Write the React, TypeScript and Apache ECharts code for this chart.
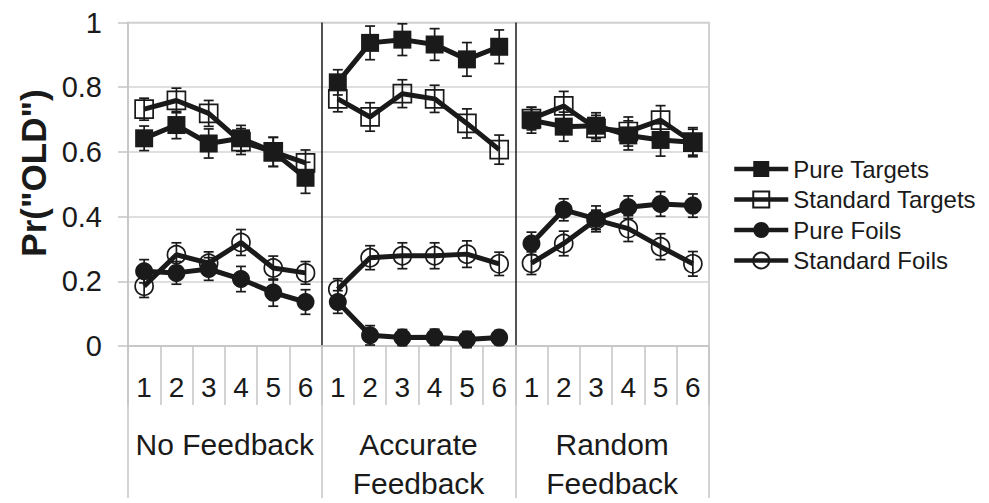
import React, { useEffect, useRef } from "react";
import * as echarts from "echarts";

const blocks = ["1", "2", "3", "4", "5", "6"];
const groups = ["No Feedback", "Accurate\nFeedback", "Random\nFeedback"];
const yTicks = { min: 0, max: 1, interval: 0.2 };

// values per block, three groups of six (No Feedback, Accurate, Random)
const pureTargets = [0.642, 0.683, 0.626, 0.642, 0.6, 0.52, 0.815, 0.937, 0.947, 0.932, 0.886, 0.925, 0.698, 0.678, 0.681, 0.651, 0.637, 0.63];
const standardTargets = [0.732, 0.759, 0.719, 0.632, 0.6, 0.566, 0.764, 0.708, 0.78, 0.764, 0.688, 0.607, 0.703, 0.742, 0.673, 0.663, 0.698, 0.63];
const pureFoils = [0.231, 0.226, 0.238, 0.207, 0.165, 0.136, 0.136, 0.033, 0.026, 0.027, 0.02, 0.026, 0.317, 0.421, 0.393, 0.429, 0.439, 0.434];
const standardFoils = [0.185, 0.282, 0.256, 0.32, 0.241, 0.226, 0.175, 0.273, 0.279, 0.279, 0.284, 0.254, 0.256, 0.317, 0.39, 0.363, 0.307, 0.254];

const pureTargetsErr = [0.038, 0.042, 0.045, 0.04, 0.045, 0.048, 0.039, 0.052, 0.049, 0.049, 0.052, 0.052, 0.04, 0.045, 0.04, 0.045, 0.05, 0.045];
const standardTargetsErr = [0.034, 0.038, 0.04, 0.04, 0.045, 0.04, 0.04, 0.044, 0.043, 0.042, 0.045, 0.045, 0.035, 0.045, 0.04, 0.045, 0.045, 0.04];
const pureFoilsErr = [0.036, 0.035, 0.035, 0.039, 0.042, 0.038, 0.035, 0.03, 0.025, 0.025, 0.025, 0.022, 0.035, 0.034, 0.04, 0.035, 0.038, 0.036];
const standardFoilsErr = [0.035, 0.037, 0.035, 0.04, 0.037, 0.035, 0.033, 0.037, 0.04, 0.04, 0.041, 0.036, 0.035, 0.038, 0.03, 0.04, 0.04, 0.038];

const seriesDefs = [
  { name: "Standard Foils", values: standardFoils, err: standardFoilsErr, symbol: "circle", filled: false },
  { name: "Pure Foils", values: pureFoils, err: pureFoilsErr, symbol: "circle", filled: true },
  { name: "Standard Targets", values: standardTargets, err: standardTargetsErr, symbol: "rect", filled: false },
  { name: "Pure Targets", values: pureTargets, err: pureTargetsErr, symbol: "rect", filled: true },
];

const FONT = "'Liberation Sans', Arial, Helvetica, sans-serif";
const GRAY = "#c4c4c4";
const INK = "#1a1a1a";

export default function App() {
  const ref = useRef<HTMLDivElement>(null);
  useEffect(() => {
    if (!ref.current) return;
    const chart = echarts.init(ref.current, undefined, { renderer: "svg" });
    const categories: string[] = [];
    groups.forEach(() => blocks.forEach((b) => categories.push(b)));

    const series: any[] = [];
    // error bars
    seriesDefs.forEach((d) => {
      const data = d.values.map((v, i) => [i, v - d.err[i], v + d.err[i]]);
      series.push({
        type: "custom",
        xAxisIndex: 0,
        yAxisIndex: 0,
        silent: true,
        z: 1,
        encode: { x: 0, y: [1, 2] },
        data,
        renderItem: (params: any, api: any) => {
          const x = api.value(0);
          const lo = api.coord([x, api.value(1)]);
          const hi = api.coord([x, api.value(2)]);
          const hw = 5;
          const style = { stroke: INK, lineWidth: 1.7 };
          return {
            type: "group",
            children: [
              { type: "line", shape: { x1: lo[0], y1: lo[1], x2: hi[0], y2: hi[1] }, style },
              { type: "line", shape: { x1: lo[0] - hw, y1: lo[1], x2: lo[0] + hw, y2: lo[1] }, style },
              { type: "line", shape: { x1: hi[0] - hw, y1: hi[1], x2: hi[0] + hw, y2: hi[1] }, style },
            ],
          };
        },
      });
    });
    // lines, one segment per group
    seriesDefs.forEach((d, si) => {
      groups.forEach((g, gi) => {
        const data = blocks.map((b, bi) => {
          const idx = gi * blocks.length + bi;
          return [idx, d.values[idx]];
        });
        series.push({
          type: "line",
          name: d.name,
          xAxisIndex: 0,
          yAxisIndex: 0,
          z: 2 + si,
          data,
          symbol: d.symbol,
          symbolSize: 18,
          showSymbol: true,
          lineStyle: { color: INK, width: 5 },
          itemStyle: {
            color: d.filled ? INK : "transparent",
            borderColor: INK,
            borderWidth: d.filled ? 0 : 1.7,
          },
          emphasis: { disabled: true },
        });
      });
    });

    chart.setOption({
      animation: false,
      textStyle: { fontFamily: FONT },
      grid: {
        left: 128,
        right: 280,
        top: 22.5,
        bottom: 152,
        show: true,
        borderColor: GRAY,
        borderWidth: 1.5,
      },
      legend: {
        data: ["Pure Targets", "Standard Targets", "Pure Foils", "Standard Foils"],
        orient: "vertical",
        left: 732,
        top: 157,
        padding: 0,
        itemWidth: 54,
        itemHeight: 20,
        itemGap: 6.5,
        selectedMode: false,
        lineStyle: { width: 4.5, color: INK },
        textStyle: { fontSize: 24, lineHeight: 24, color: INK, fontFamily: FONT },
      },
      xAxis: [
        {
          type: "category",
          data: categories,
          position: "bottom",
          boundaryGap: true,
          axisLine: { show: true, lineStyle: { color: GRAY, width: 1.5 } },
          axisTick: { show: true, interval: 0, length: 59, lineStyle: { color: GRAY, width: 1.5 } },
          axisLabel: { interval: 0, margin: 27, fontSize: 28, color: INK, fontFamily: FONT },
          splitLine: { show: false },
        },
        {
          type: "category",
          data: groups,
          position: "bottom",
          offset: 0,
          boundaryGap: true,
          axisLine: { show: false },
          axisTick: { show: true, interval: 0, length: 152, lineStyle: { color: GRAY, width: 1.5 } },
          axisLabel: { interval: 0, margin: 79, fontSize: 30, lineHeight: 39, color: INK, fontFamily: FONT },
          splitLine: {
            show: true,
            interval: 0,
            showMinLine: false,
            showMaxLine: false,
            lineStyle: { color: INK, width: 1.5 },
          },
        },
      ],
      yAxis: {
        type: "value",
        min: yTicks.min,
        max: yTicks.max,
        interval: yTicks.interval,
        axisLine: { show: true, lineStyle: { color: GRAY, width: 1.5 } },
        axisTick: { show: true, length: 10, lineStyle: { color: GRAY, width: 1.5 } },
        axisLabel: { margin: 26, fontSize: 29, color: INK, fontFamily: FONT },
        splitLine: { show: true, lineStyle: { color: "#d4d4d4", width: 1.5 } },
      },
      graphic: [
        {
          type: "text",
          x: 33,
          y: 173,
          rotation: Math.PI / 2,
          style: {
            text: 'Pr("OLD")',
            fontSize: 35,
            fontWeight: "bold",
            fontFamily: FONT,
            fill: INK,
            align: "center",
            verticalAlign: "middle",
          },
        },
      ],
      series,
    });
    return () => chart.dispose();
  }, []);
  return (
    <div
      ref={ref}
      style={{ position: "fixed", left: 0, top: 0, width: 989, height: 503, background: "#fff" }}
    />
  );
}
